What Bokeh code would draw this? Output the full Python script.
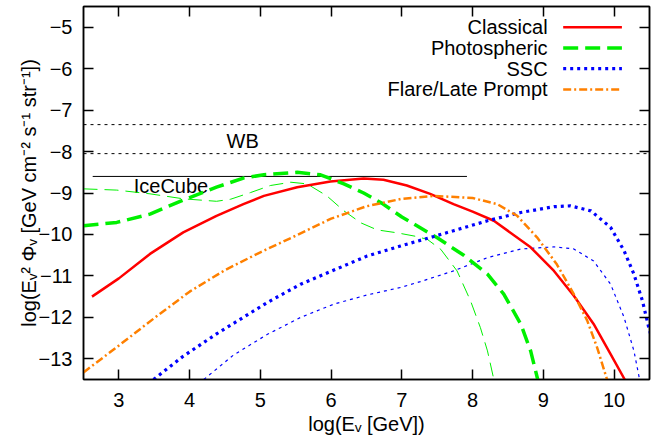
from bokeh.plotting import figure
from bokeh.models import Range1d, FixedTicker, LinearAxis, Span, CustomJSTickFormatter
from bokeh.embed import file_html
from bokeh.resources import INLINE
from bokeh.core.properties import value

FONT = "Liberation Sans"

# ---------------- data ----------------
x_ticks = [3, 4, 5, 6, 7, 8, 9, 10]
y_ticks = [-13, -12, -11, -10, -9, -8, -7, -6, -5]

classical_x = [2.62, 3.0, 3.44, 3.91, 4.38, 4.76, 5.05, 5.52, 5.99, 6.46, 6.74, 7.07, 7.40,
               7.73, 8.00, 8.30, 8.82, 9.15, 9.43, 9.71, 9.95, 10.15]
classical_y = [-11.50, -11.06, -10.47, -9.95, -9.55, -9.27, -9.07, -8.86, -8.72, -8.65, -8.68,
               -8.82, -9.02, -9.27, -9.45, -9.67, -10.31, -10.88, -11.48, -12.16, -12.89, -13.5]

photo_thick_x = [2.5, 2.97, 3.44, 3.91, 4.38, 4.76, 5.05, 5.52, 5.85, 6.18, 6.46, 6.72, 7.0,
                 7.26, 7.5, 7.88, 8.21, 8.44, 8.68, 8.82, 8.92]
photo_thick_y = [-9.79, -9.71, -9.51, -9.17, -8.86, -8.64, -8.56, -8.50, -8.56, -8.78, -9.0,
                 -9.25, -9.58, -9.84, -10.08, -10.51, -10.96, -11.44, -12.16, -12.81, -13.5]

photo_thin_x = [2.5, 2.97, 3.44, 3.91, 4.38, 4.58, 4.86, 5.14, 5.43, 5.66, 5.94, 6.18, 6.42,
                6.65, 6.93, 7.21, 7.36, 7.55, 7.78, 7.97, 8.11, 8.21, 8.30]
photo_thin_y = [-8.90, -8.93, -9.02, -9.14, -9.20, -9.15, -8.99, -8.82, -8.74, -8.78, -9.07,
                -9.43, -9.72, -9.89, -9.96, -10.05, -10.12, -10.36, -10.88, -11.60, -12.25,
                -12.81, -13.5]

ssc_thick_x = [3.49, 3.9, 4.38, 4.76, 5.10, 5.57, 6.04, 6.51, 6.98, 7.45, 7.73, 8.21, 8.68,
               9.15, 9.38, 9.67, 9.95, 10.14, 10.28, 10.40, 10.49, 10.55]
ssc_thick_y = [-13.5, -12.95, -12.40, -12.00, -11.64, -11.20, -10.86, -10.52, -10.28, -10.05,
               -9.91, -9.67, -9.47, -9.33, -9.31, -9.43, -9.83, -10.39, -10.96, -11.60,
               -12.25, -12.6]

ssc_thin_x = [4.20, 4.62, 5.10, 5.57, 6.04, 6.51, 6.98, 7.26, 7.73, 8.21, 8.68, 9.15, 9.43,
              9.71, 9.95, 10.14, 10.28, 10.36]
ssc_thin_y = [-13.5, -12.91, -12.41, -12.0, -11.68, -11.46, -11.28, -11.14, -10.88, -10.56,
              -10.35, -10.30, -10.35, -10.64, -11.20, -12.0, -12.81, -13.5]

flare_x = [2.5, 3.0, 3.5, 4.0, 4.5, 5.0, 5.5, 6.0, 6.5, 7.0, 7.45, 8.0, 8.35, 8.63, 8.91,
           9.19, 9.43, 9.62, 9.76, 9.90]
flare_y = [-13.33, -12.68, -12.02, -11.38, -10.86, -10.43, -10.03, -9.62, -9.32, -9.14, -9.07,
           -9.12, -9.27, -9.55, -10.07, -10.72, -11.44, -12.08, -12.73, -13.5]

wb_levels = [-7.35, -8.05]
icecube_level = -8.6
icecube_x = [2.63, 7.92]

legend_labels = ["Classical", "Photospheric", "SSC", "Flare/Late Prompt"]

# ---------------- layout / style ----------------
p = figure(width=654, height=441, x_range=Range1d(2.5, 10.5), y_range=Range1d(-13.5, -4.5),
           output_backend="svg", toolbar_location=None,
           min_border_left=83, min_border_right=5, min_border_top=6, min_border_bottom=62)
p.grid.visible = False
p.outline_line_color = "black"
p.outline_line_width = 1.5
p.background_fill_color = "white"
p.border_fill_color = "white"


def style_axis(ax, ticks):
    ax.ticker = FixedTicker(ticks=ticks)
    ax.major_tick_in = 10
    ax.major_tick_out = 0
    ax.minor_tick_line_color = None
    ax.axis_line_color = "black"
    ax.axis_line_width = 1.5
    ax.major_tick_line_color = "black"
    ax.major_tick_line_width = 1.5
    ax.major_label_text_font = FONT
    ax.major_label_text_font_size = "20px"
    ax.major_label_text_color = "black"
    ax.axis_label_text_font = FONT
    ax.axis_label_text_font_size = "20px"
    ax.axis_label_text_font_style = "normal"
    ax.axis_label_text_color = "black"


xa = p.xaxis[0]
style_axis(xa, x_ticks)
xa.axis_label = "log(Eᵥ [GeV])"
xa.major_label_standoff = 13
xa.axis_label_standoff = 3

ya = p.yaxis[0]
style_axis(ya, y_ticks)
ya.axis_label = "log(Eᵥ² Φᵥ [GeV cm⁻² s⁻¹ str⁻¹])"
ya.major_label_standoff = 11
ya.axis_label_standoff = -4

blank = "return ''"
top = LinearAxis(formatter=CustomJSTickFormatter(code=blank))
style_axis(top, x_ticks)
right = LinearAxis(formatter=CustomJSTickFormatter(code=blank))
style_axis(right, y_ticks)
for ax in (top, right):
    ax.major_label_standoff = 0
    ax.major_label_text_font_size = "0px"
p.add_layout(top, "above")
p.add_layout(right, "right")

# reference lines
for lv in wb_levels:
    p.add_layout(Span(location=lv, dimension="width", line_color="black",
                      line_width=1, line_dash="3 4"))
p.line(icecube_x, [icecube_level, icecube_level], line_color="black", line_width=1)
p.text(x=[4.75], y=[-7.74], text=["WB"], text_font=value(FONT), text_font_size=value("20px"),
       text_align="center", text_baseline="middle", text_color="black")
p.text(x=[3.21], y=[-8.84], text=["IceCube"], text_font=value(FONT),
       text_font_size=value("20px"), text_align="left", text_baseline="middle",
       text_color="black")

styles = [
    dict(line_color="#ff0000", line_width=2.5),
    dict(line_color="#00f000", line_width=3.5, line_dash="15 7"),
    dict(line_color="#0000ff", line_width=3.2, line_dash="3 4"),
    dict(line_color="#ff8000", line_width=2.5, line_dash="8 3 2 3"),
]
thin_green = dict(line_color="#00f000", line_width=1, line_dash="14 7")
thin_blue = dict(line_color="#0000ff", line_width=1.2, line_dash="3 4")

p.line(photo_thin_x, photo_thin_y, **thin_green)
p.line(ssc_thin_x, ssc_thin_y, **thin_blue)
p.line(classical_x, classical_y, **styles[0])
p.line(photo_thick_x, photo_thick_y, **styles[1])
p.line(ssc_thick_x, ssc_thick_y, **styles[2])
p.line(flare_x, flare_y, **styles[3])

# legend (gnuplot style: text right-aligned, sample to the right)
leg_text_x = 9.06
leg_x0, leg_x1 = 9.28, 10.11
leg_y0, leg_dy = -5.0, 0.5
for i, (lab, st) in enumerate(zip(legend_labels, styles)):
    yy = leg_y0 - i * leg_dy
    p.text(x=[leg_text_x], y=[yy], text=[lab], text_font=value(FONT),
           text_font_size=value("20px"), text_align="right", text_baseline="middle",
           text_color="black")
    p.line([leg_x0, leg_x1], [yy, yy], **st)

open("out.html", "w").write(file_html(p, INLINE))
